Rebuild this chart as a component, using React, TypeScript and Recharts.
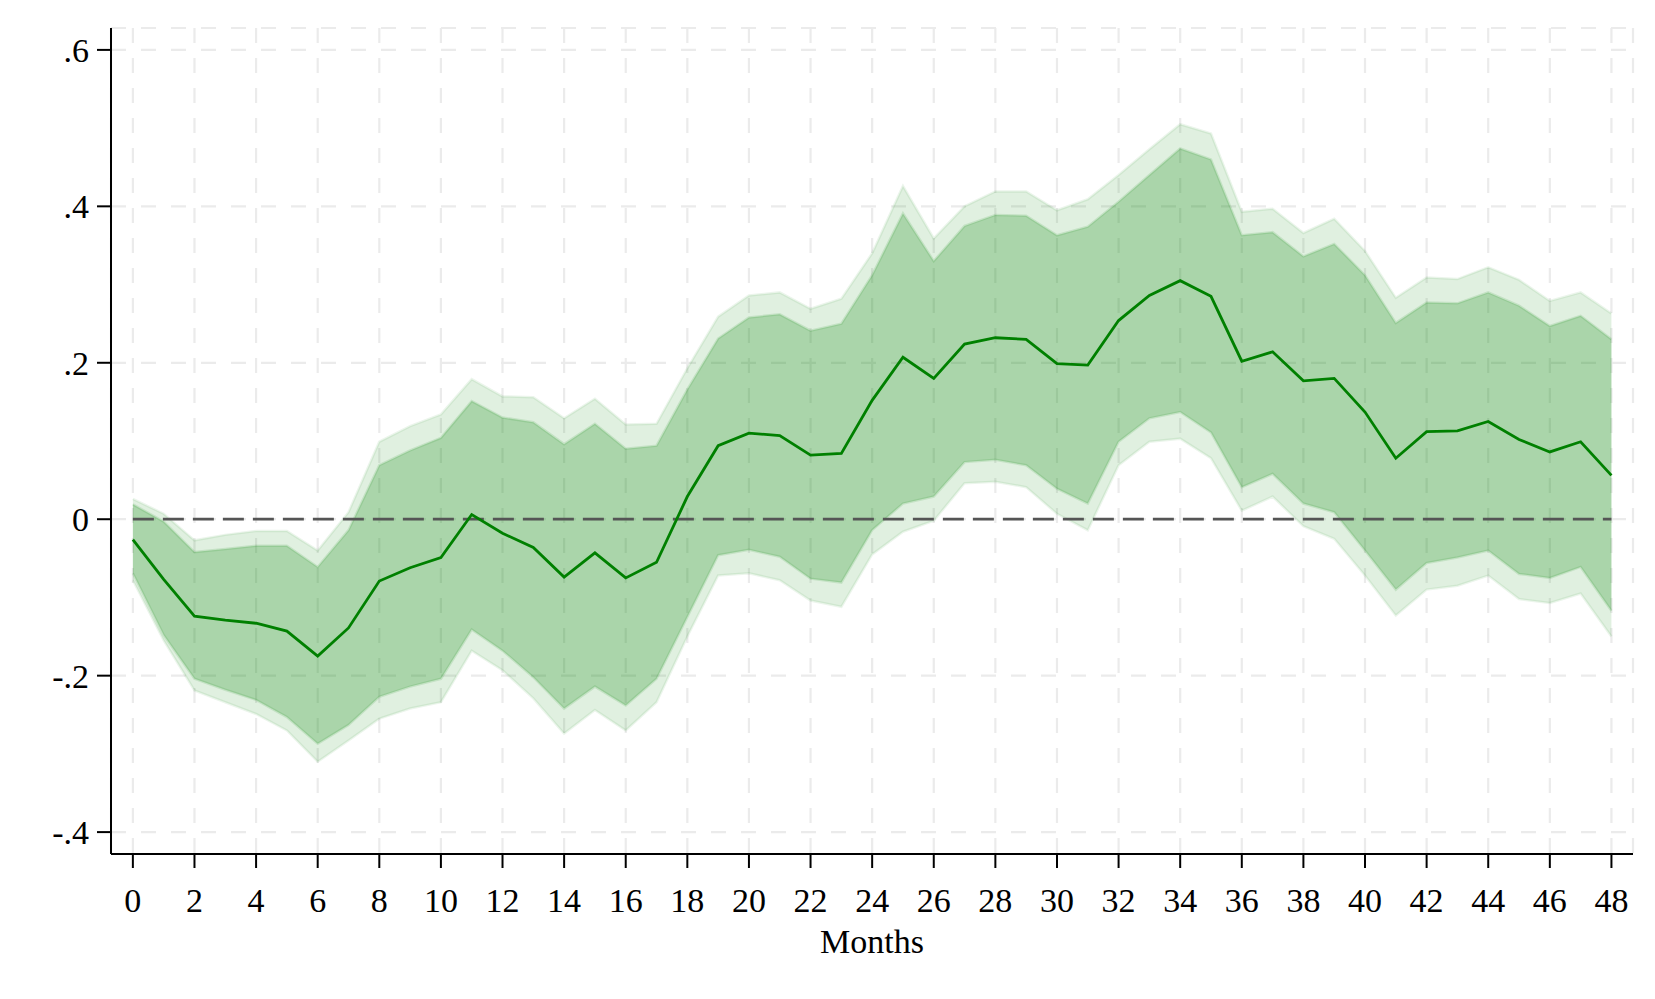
import React from 'react';
import { ComposedChart, Area, Line, XAxis, YAxis, CartesianGrid, ReferenceLine, Label } from 'recharts';

// Months since the event
const months = Array.from({ length: 49 }, (_, i) => i);

// Point estimate
const estimate = [
  -0.026, -0.077, -0.124, -0.129, -0.133, -0.143, -0.175, -0.139, -0.079, -0.062,
  -0.049, 0.006, -0.018, -0.036, -0.074, -0.043, -0.075, -0.055, 0.029, 0.094,
  0.11, 0.107, 0.082, 0.084, 0.152, 0.207, 0.18, 0.224, 0.232, 0.23,
  0.199, 0.197, 0.254, 0.286, 0.305, 0.285, 0.202, 0.214, 0.177, 0.18,
  0.137, 0.078, 0.112, 0.113, 0.125, 0.102, 0.086, 0.099, 0.056,
];

// Inner band (90%)
const upper90 = [
  0.019, -0.003, -0.042, -0.038, -0.034, -0.034, -0.061, -0.014, 0.069, 0.088,
  0.104, 0.151, 0.13, 0.124, 0.096, 0.122, 0.09, 0.094, 0.166, 0.231,
  0.258, 0.262, 0.241, 0.25, 0.312, 0.391, 0.33, 0.375, 0.389, 0.388,
  0.363, 0.374, 0.406, 0.44, 0.474, 0.46, 0.363, 0.367, 0.336, 0.352,
  0.312, 0.251, 0.277, 0.276, 0.29, 0.273, 0.247, 0.26, 0.23,
];
const lower90 = [
  -0.069, -0.148, -0.204, -0.218, -0.231, -0.253, -0.287, -0.263, -0.227, -0.214,
  -0.204, -0.141, -0.168, -0.202, -0.242, -0.214, -0.238, -0.204, -0.125, -0.046,
  -0.039, -0.048, -0.076, -0.081, -0.014, 0.02, 0.029, 0.073, 0.076, 0.069,
  0.039, 0.02, 0.099, 0.129, 0.137, 0.111, 0.041, 0.058, 0.02, 0.009,
  -0.04, -0.09, -0.056, -0.049, -0.04, -0.07, -0.075, -0.061, -0.117,
];

// Outer band (95%)
const upper95 = [
  0.026, 0.007, -0.027, -0.02, -0.015, -0.015, -0.04, 0.009, 0.099, 0.119,
  0.134, 0.179, 0.157, 0.156, 0.129, 0.154, 0.121, 0.122, 0.193, 0.259,
  0.286, 0.29, 0.269, 0.282, 0.34, 0.426, 0.359, 0.4, 0.419, 0.419,
  0.395, 0.409, 0.44, 0.473, 0.505, 0.493, 0.393, 0.397, 0.366, 0.384,
  0.343, 0.283, 0.309, 0.307, 0.322, 0.306, 0.279, 0.29, 0.263,
];
const lower95 = [
  -0.078, -0.155, -0.219, -0.234, -0.249, -0.27, -0.31, -0.283, -0.255, -0.242,
  -0.234, -0.168, -0.193, -0.229, -0.274, -0.244, -0.27, -0.234, -0.15, -0.072,
  -0.069, -0.078, -0.104, -0.112, -0.045, -0.016, -0.002, 0.046, 0.048, 0.041,
  0.007, -0.014, 0.069, 0.099, 0.103, 0.078, 0.011, 0.029, -0.009, -0.025,
  -0.072, -0.123, -0.09, -0.085, -0.072, -0.102, -0.107, -0.095, -0.15,
];

const xTicks = months.filter((m) => m % 2 === 0);
const yTicks = [-0.4, -0.2, 0, 0.2, 0.4, 0.6];

const data = months.map((m, i) => ({
  month: m,
  est: estimate[i],
  ci95: [lower95[i], upper95[i]],
  ci90: [lower90[i], upper90[i]],
}));

const FONT = '"Liberation Serif", "DejaVu Serif", serif';
const GREEN = '#008000';

const fmtY = (v: number) => {
  if (Math.abs(v) < 1e-9) return '0';
  const s = Math.abs(v).toFixed(1).replace(/^0/, '');
  return (v < 0 ? '-' : '') + s;
};

export default function App() {
  return (
    <div style={{ width: 1647, height: 960 }}>
      <ComposedChart
        width={1647}
        height={960}
        data={data}
        margin={{ top: 20, right: 22, left: 0, bottom: 0 }}
      >
        <CartesianGrid stroke="#ebebeb" strokeDasharray="15 15" strokeWidth={2.2} />
        <XAxis
          type="number"
          dataKey="month"
          domain={[-0.71, 48.7]}
          ticks={xTicks}
          interval={0}
          allowDataOverflow
          height={114}
          tickSize={14}
          tickMargin={20}
          axisLine={{ stroke: '#000', strokeWidth: 2 }}
          tickLine={{ stroke: '#000', strokeWidth: 2 }}
          tick={{ fill: '#000', fontSize: 34, fontFamily: FONT }}
        >
          <Label
            value="Months"
            position="insideBottom"
            offset={15}
            style={{ fill: '#000', fontSize: 34, fontFamily: FONT }}
          />
        </XAxis>
        <YAxis
          type="number"
          domain={[-0.428, 0.628]}
          ticks={yTicks}
          interval={0}
          allowDataOverflow
          width={103}
          tickSize={14}
          tickMargin={8}
          tickFormatter={fmtY}
          axisLine={{ stroke: '#000', strokeWidth: 2 }}
          tickLine={{ stroke: '#000', strokeWidth: 2 }}
          tick={{ fill: '#000', fontSize: 34, fontFamily: FONT }}
        />
        <Area
          type="linear"
          dataKey="ci95"
          fill={GREEN}
          fillOpacity={0.12}
          stroke={GREEN}
          strokeOpacity={0.08}
          strokeWidth={2.5}
          isAnimationActive={false}
        />
        <Area
          type="linear"
          dataKey="ci90"
          fill={GREEN}
          fillOpacity={0.24}
          stroke={GREEN}
          strokeOpacity={0.12}
          strokeWidth={2.5}
          isAnimationActive={false}
        />
        <ReferenceLine
          segment={[{ x: 0, y: 0 }, { x: 48, y: 0 }]}
          stroke="#555"
          strokeWidth={2.8}
          strokeDasharray="21 9"
        />
        <Line
          type="linear"
          dataKey="est"
          stroke={GREEN}
          strokeWidth={2.8}
          dot={false}
          activeDot={false}
          isAnimationActive={false}
        />
      </ComposedChart>
    </div>
  );
}
